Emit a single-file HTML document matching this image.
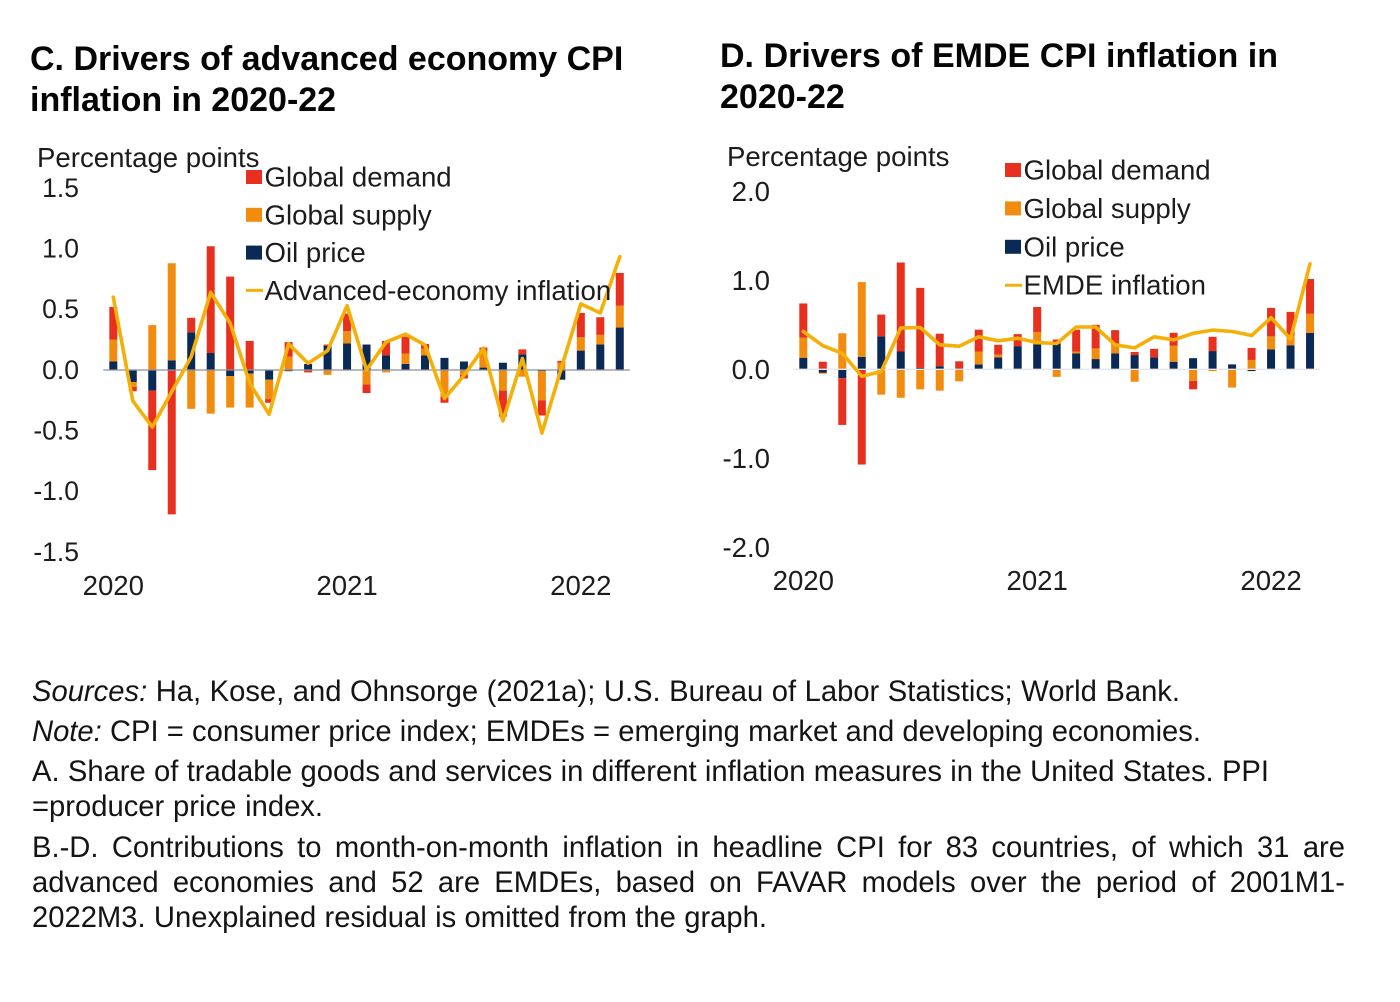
<!DOCTYPE html>
<html lang="en">
<head>
<meta charset="utf-8">
<title>Drivers of CPI inflation in 2020-22</title>
<style>
html,body{margin:0;padding:0;background:#fff;}
#page{position:relative;width:1400px;height:1002px;overflow:hidden;background:#fff;font-family:"Liberation Sans",Arial,sans-serif;color:#111;}
.t{position:absolute;white-space:nowrap;text-align:justify;text-align-last:justify;}
.title{font-weight:bold;font-size:34px;line-height:40px;color:#050505;}
.foot{font-size:29.2px;line-height:36px;left:32px;color:#141414;}
svg{position:absolute;left:0;top:0;}
svg text{font-family:"Liberation Sans",Arial,sans-serif;font-size:27.6px;fill:#1c1c1c;}
</style>
</head>
<body>
<div id="page">
  <div class="t title" style="left:30px;top:39px;width:593px">C. Drivers of advanced economy CPI</div>
  <div class="t title" style="left:30px;top:80px;width:306px">inflation in 2020-22</div>
  <div class="t title" style="left:720px;top:36px;width:558px">D. Drivers of EMDE CPI inflation in</div>
  <div class="t title" style="left:720px;top:77px;width:125px">2020-22</div>

  <svg id="chart" width="1400" height="1002" viewBox="0 0 1400 1002"></svg>

  <div class="t foot" style="top:673.5px;width:1148px"><i>Sources:</i> Ha, Kose, and Ohnsorge (2021a); U.S. Bureau of Labor Statistics; World Bank.</div>
  <div class="t foot" style="top:713.5px;width:1169px"><i>Note:</i> CPI = consumer price index; EMDEs = emerging market and developing economies.</div>
  <div class="t foot" style="top:753.5px;width:1237px">A. Share of tradable goods and services in different inflation measures in the United States. PPI</div>
  <div class="t foot" style="top:788.5px;width:291px">=producer price index.</div>
  <div class="t foot" style="top:829.5px;width:1313px">B.-D. Contributions to month-on-month inflation in headline CPI for 83 countries, of which 31 are</div>
  <div class="t foot" style="top:864.5px;width:1313px">advanced economies and 52 are EMDEs, based on FAVAR models over the period of 2001M1-</div>
  <div class="t foot" style="top:899.5px;width:735px">2022M3. Unexplained residual is omitted from the graph.</div>
</div>

<script>
// Chart C: advanced economies (percentage points, Jan 2020 - Mar 2022)
const oilC = [.07,-.10,-.17,.08,.31,.14,-.05,-.03,-.08,-.01,.05,.20,.22,.21,.12,.05,.12,.10,.07,.02,.06,.13,-.01,-.08,.16,.21,.35];
const supplyC = [.18,-.04,.37,.80,-.32,-.36,-.26,-.28,-.16,.11,0,-.04,.10,-.12,-.02,.085,.055,-.22,-.04,.14,-.17,-.055,-.24,.06,.11,.08,.18];
const demandC = [.27,-.035,-.655,-1.19,.12,.88,.77,.24,-.03,.12,-.02,.01,.145,-.07,.12,.14,.04,-.05,-.03,.025,-.215,.04,-.125,.015,.20,.145,.27];
const inflationC = [.60,-.255,-.47,-.18,.11,.64,.385,-.11,-.365,.215,.055,.16,.53,0,.23,.295,.205,-.235,-.045,.18,-.42,.095,-.52,.015,.545,.47,.935];
const ticksC = [1.5,1.0,0.5,0,-0.5,-1.0,-1.5];
const tickLabelsC = ["1.5","1.0","0.5","0.0","-0.5","-1.0","-1.5"];

// Chart D: EMDEs (percentage points, Jan 2020 - Mar 2022)
const oilD = [.13,-.04,-.10,.14,.37,.20,.015,.035,0,.055,.135,.26,.28,.285,.18,.115,.18,.16,.135,.085,.125,.205,.055,-.02,.225,.27,.41];
const supplyD = [.225,-.01,.405,.84,-.285,-.32,-.225,-.24,-.135,.145,.03,0,.14,-.085,.02,.12,.105,-.14,0,.18,-.13,-.02,-.205,.105,.145,.11,.215];
const demandD = [.385,.085,-.525,-1.07,.245,1.0,.90,.365,.09,.245,.11,.135,.28,.05,.245,.265,.155,.035,.095,.145,-.095,.16,0,.135,.32,.265,.39];
const inflationD = [.425,.265,.18,-.08,-.025,.465,.47,.275,.26,.365,.32,.35,.30,.29,.475,.475,.275,.24,.365,.33,.405,.44,.425,.38,.58,.34,1.185];
const ticksD = [2,1,0,-1,-2];
const tickLabelsD = ["2.0","1.0","0.0","-1.0","-2.0"];

const years = ["2020","2021","2022"];
const yearIndex = [0,12,24];
const legendC = ["Global demand","Global supply","Oil price","Advanced-economy inflation"];
const legendD = ["Global demand","Global supply","Oil price","EMDE inflation"];

const NS = "http://www.w3.org/2000/svg";
const root = document.getElementById("chart");
const RED = "#e8301f", ORANGE = "#f28c0f", NAVY = "#0a2a55", LINE = "#f4b009";

function mk(tag, attrs, parent) {
  const el = document.createElementNS(NS, tag);
  for (const k in attrs) el.setAttribute(k, attrs[k]);
  (parent || root).appendChild(el);
  return el;
}

function drawChart(cfg) {
  const g = mk("g", {});
  
  
  const xAt = i => cfg.x0 + i * cfg.step;
  const yAt = v => cfg.y0 - v * cfg.scale;

  const unit = mk("text", {x: cfg.unitX, y: cfg.unitY}, g);
  unit.textContent = "Percentage points";
  
  

  cfg.ticks.forEach((t, i) => {
    const lab = mk("text", {x: cfg.tickX, y: yAt(t) + cfg.tickDy, "text-anchor": "end", style: "font-size:" + cfg.tickSize + "px"}, g);
    lab.textContent = cfg.tickLabels[i];
    
    
  });

  years.forEach((y, i) => {
    const lab = mk("text", {x: xAt(yearIndex[i]), y: cfg.yearY, "text-anchor": "middle"}, g);
    lab.textContent = y;
    
    
  });

  const n = cfg.oil.length;
  for (let i = 0; i < n; i++) {
    let up = 0, down = 0;
    [[cfg.oil, NAVY, "oil"], [cfg.supply, ORANGE, "supply"], [cfg.demand, RED, "demand"]].forEach(s => {
      const v = s[0][i];
      if (!v) return;
      const start = v > 0 ? up : down;
      const end = start + v;
      if (v > 0) up = end; else down = end;
      const top = Math.min(yAt(start), yAt(end));
      const r = mk("rect", {x: xAt(i) - 4, y: top, width: 8, height: Math.abs(yAt(start) - yAt(end)), fill: s[1]}, g);
      
      
    });
  }

  const axis = mk("line", {x1: cfg.x0 - 10, x2: xAt(n - 1) + 10, y1: cfg.y0, y2: cfg.y0, stroke: cfg.axisColor, "stroke-width": 1.3}, g);
  
  

  const pts = cfg.line.map((v, i) => xAt(i).toFixed(1) + "," + yAt(v).toFixed(1)).join(" ");
  const pl = mk("polyline", {points: pts, fill: "none", stroke: LINE, "stroke-width": 3.6, "stroke-linejoin": "round", "stroke-linecap": "round"}, g);
  
  

  const swatchColors = [RED, ORANGE, NAVY];
  cfg.legend.forEach((txt, i) => {
    const cy = cfg.legY + i * cfg.legStep;
    if (i < 3) {
      const sw = mk("rect", {x: cfg.legX, y: cy - 7, width: 16, height: 14, fill: swatchColors[i]}, g);
      
      
    } else {
      const sw = mk("line", {x1: cfg.legX, x2: cfg.legX + 17, y1: cy, y2: cy, stroke: LINE, "stroke-width": 3}, g);
      
      
    }
    const lt = mk("text", {x: cfg.legX + 18.5, y: cy + 9.5}, g);
    lt.textContent = txt;
    
    
  });
}

drawChart({name: "chart-c", x0: 113.3, step: 19.48, y0: 370, scale: 121.3, oil: oilC, supply: supplyC, demand: demandC, line: inflationC,
  ticks: ticksC, tickLabels: tickLabelsC, tickX: 79, tickDy: 8.8, tickSize: 26.5, yearY: 595, unitX: 37, unitY: 167, legX: 246, legY: 177, legStep: 37.8,
  legend: legendC, axisColor: "#8a8f9c"});
drawChart({name: "chart-d", x0: 803.3, step: 19.49, y0: 369.3, scale: 89, oil: oilD, supply: supplyD, demand: demandD, line: inflationD,
  ticks: ticksD, tickLabels: tickLabelsD, tickX: 770, tickDy: 9.5, tickSize: 27.6, yearY: 590, unitX: 727, unitY: 166, legX: 1005, legY: 170, legStep: 38.4,
  legend: legendD, axisColor: "#e6e6ee"});
</script>
</body>
</html>
